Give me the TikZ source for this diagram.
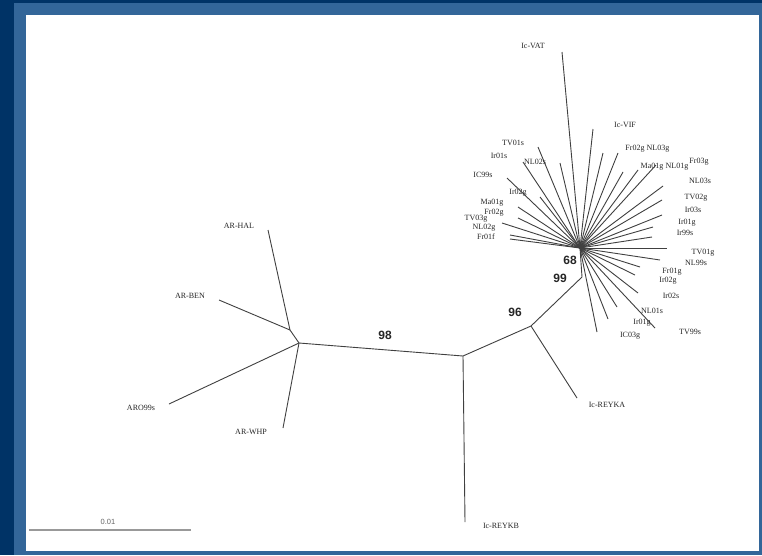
\documentclass[tikz,border=0pt]{standalone}
\usepackage{fontspec}
\newfontfamily\taxonfont{Liberation Serif}
\newfontfamily\bootfont{Liberation Sans}
\usepackage{tikz}
\usetikzlibrary{positioning, calc}

\definecolor{navy}{RGB}{0,51,102}
\definecolor{band}{RGB}{51,102,153}

\begin{document}
\begin{tikzpicture}[
    x=1pt, y=-1pt,
    branch/.style={draw=black!75, line width=0.9pt},
    taxon/.style={font=\taxonfont\fontsize{8}{8}\selectfont, text=black!85, inner sep=0pt},
    boot/.style={font=\bootfont\bfseries\fontsize{12}{12}\selectfont, text=black!85, inner sep=0pt},
    scalebar/.style={draw=black!40, line width=1.3pt},
]
\useasboundingbox (0,0) rectangle (762,555);

% === FRAME ===
\fill[navy] (0,0) rectangle (762,555);
\fill[band] (14,3) rectangle (762,555);
\fill[white] (26,15) rectangle (759,551);

% === BACKBONE: internal nodes ===
\coordinate (nA) at (290,330);
\coordinate (nB) at (299,343);
\coordinate (nD) at (463,356);
\coordinate (nE) at (531,326);
\coordinate (nF) at (582,277);
\coordinate (hub) at (580,248);

\draw[branch] (nA) -- (nB) -- (nD) -- (nE) -- (nF) -- (hub);

% --- Argentine taxa ---
\coordinate (tHAL) at (268,230);
\coordinate (tBEN) at (219,300);
\coordinate (tARO) at (169,404);
\coordinate (tWHP) at (283,428);
\draw[branch] (nA) -- (tHAL);
\draw[branch] (nA) -- (tBEN);
\draw[branch] (nB) -- (tARO);
\draw[branch] (nB) -- (tWHP);
\node[taxon] (lHAL) at (239,226) {AR-HAL};
\node[taxon] (lBEN) at (190,296) {AR-BEN};
\node[taxon] (lARO) at (141,408) {ARO99s};
\node[taxon] (lWHP) at (251,432) {AR-WHP};

% --- Reykjavik taxa ---
\coordinate (tREYKB) at (465,522);
\coordinate (tREYKA) at (577,398);
\draw[branch] (nD) -- (tREYKB);
\draw[branch] (nE) -- (tREYKA);
\node[taxon] (lREYKB) at (501,526) {Ic-REYKB};
\node[taxon] (lREYKA) at (607,405) {Ic-REYKA};

% --- Bootstrap values ---
\node[boot] (b98) at (385,335) {98};
\node[boot] (b96) at (515,312) {96};
\node[boot] (b99) at (560,278) {99};
\node[boot] (b68) at (570,260) {68};

% === STAR CLUSTER ===
\foreach \tx/\ty/\lx/\ly/\txt [count=\i] in {
    562/52/533/46/Ic-VAT,
    593/129/625/125/Ic-VIF,
    603/153/635/149/Fr02g,
    618/153/658/149/NL03g,
    623/172/652/167/Ma01g,
    638/170/677/167/NL01g,
    656/165/699/162/Fr03g,
    663/186/700/181/NL03s,
    662/200/696/198/TV02g,
    662/215/693/210/Ir03s,
    653/227/687/223/Ir01g,
    652/237/685/233/Ir99s,
    667/248/703/253/TV01g,
    660/260/696/263/NL99s,
    640/267/672/272/Fr01g,
    635/275/668/281/Ir02g,
    638/293/671/296/Ir02s,
    617/307/652/311/NL01s,
    655/328/642/323/Ir01g,
    608/319/690/332/TV99s,
    597/332/630/336/IC03g,
    538/147/513/143/TV01s,
    523/162/535/162/NL02s,
    560/163/499/156/Ir01s,
    507/178/483/175/IC99s,
    540/197/518/193/Ir02g,
    518/207/492/203/Ma01g,
    518/218/494/213/Fr02g,
    502/223/476/219/TV03g,
    510/235/484/228/NL02g,
    510/239/486/237/Fr01f} {
  \coordinate (leaf\i) at (\tx,\ty);
  \draw[branch] (hub) -- (leaf\i);
  \node[taxon] (lab\i) at (\lx,\ly) {\txt};
}

% === SCALE BAR ===
\coordinate (sL) at (29,530);
\coordinate (sR) at (191,530);
\draw[scalebar] (sL) -- (sR);
\node[font=\bootfont\fontsize{7.5}{8}\selectfont, text=black!60, inner sep=0pt] (sLab) at (108,522) {0.01};

\end{tikzpicture}
\end{document}
